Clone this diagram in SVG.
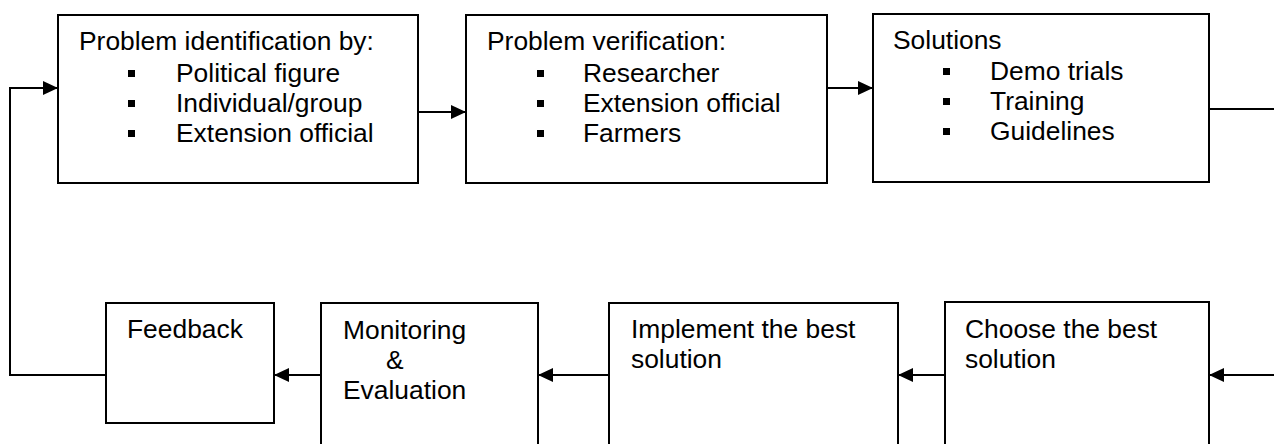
<svg xmlns="http://www.w3.org/2000/svg" width="1274" height="444" viewBox="0 0 1274 444">
<style>
.box{fill:#fff;stroke:#000;stroke-width:2}
.t{font-family:"Liberation Sans",Arial,sans-serif;font-size:26.4px;fill:#000}
.b{fill:#000}
.c{fill:none;stroke:#000;stroke-width:2}
</style>
<defs>
<marker id="ah" markerUnits="userSpaceOnUse" markerWidth="16" markerHeight="14" refX="15" refY="7" orient="auto">
<path d="M0,0 L15,7 L0,14 z" fill="#000"/>
</marker>
</defs>
<rect width="1274" height="444" fill="#fff"/>
<g id="connectors">
<path class="c" d="M106,375 H10 V88 H58" marker-end="url(#ah)"/>
<path class="c" d="M418,112 H466" marker-end="url(#ah)"/>
<path class="c" d="M827,88 H873" marker-end="url(#ah)"/>
<path class="c" d="M1209,109 H1274"/>
<path class="c" d="M1274,375 H1209" marker-end="url(#ah)"/>
<path class="c" d="M945,375 H898" marker-end="url(#ah)"/>
<path class="c" d="M609,375 H538" marker-end="url(#ah)"/>
<path class="c" d="M321,375 H274" marker-end="url(#ah)"/>
</g>
<g id="problem-identification">
<rect class="box" x="58" y="15" width="360" height="168"/>
<text class="t" x="79" y="50">Problem identification by:</text>
<rect class="b" x="128" y="70" width="7" height="7"/>
<text class="t" x="176" y="82">Political figure</text>
<rect class="b" x="128" y="100" width="7" height="7"/>
<text class="t" x="176" y="112">Individual/group</text>
<rect class="b" x="128" y="130" width="7" height="7"/>
<text class="t" x="176" y="142">Extension official</text>
</g>
<g id="problem-verification">
<rect class="box" x="466" y="15" width="361" height="168"/>
<text class="t" x="487" y="50">Problem verification:</text>
<rect class="b" x="537" y="70" width="7" height="7"/>
<text class="t" x="583" y="82">Researcher</text>
<rect class="b" x="537" y="100" width="7" height="7"/>
<text class="t" x="583" y="112">Extension official</text>
<rect class="b" x="537" y="130" width="7" height="7"/>
<text class="t" x="583" y="142">Farmers</text>
</g>
<g id="solutions">
<rect class="box" x="873" y="14" width="336" height="168"/>
<text class="t" x="893" y="49">Solutions</text>
<rect class="b" x="943" y="68" width="7" height="7"/>
<text class="t" x="990" y="80">Demo trials</text>
<rect class="b" x="943" y="98" width="7" height="7"/>
<text class="t" x="990" y="110">Training</text>
<rect class="b" x="943" y="128" width="7" height="7"/>
<text class="t" x="990" y="140">Guidelines</text>
</g>
<g id="choose">
<rect class="box" x="945" y="302" width="264" height="160"/>
<text class="t" x="965" y="338">Choose the best</text>
<text class="t" x="965" y="368">solution</text>
</g>
<g id="implement">
<rect class="box" x="609" y="303" width="289" height="160"/>
<text class="t" x="631" y="338">Implement the best</text>
<text class="t" x="631" y="368">solution</text>
</g>
<g id="monitoring">
<rect class="box" x="321" y="303" width="217" height="160"/>
<text class="t" x="343" y="339">Monitoring</text>
<text class="t" x="386" y="369">&amp;</text>
<text class="t" x="343" y="399">Evaluation</text>
</g>
<g id="feedback">
<rect class="box" x="106" y="303" width="168" height="120"/>
<text class="t" x="127" y="338">Feedback</text>
</g>
</svg>
